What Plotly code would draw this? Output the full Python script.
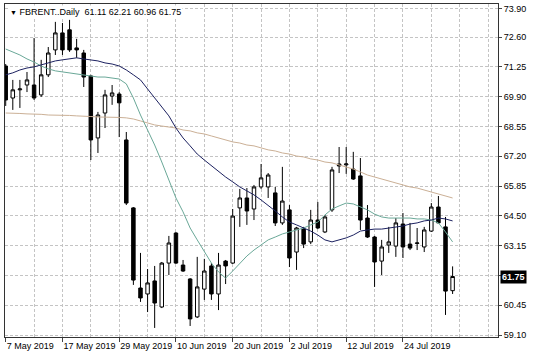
import plotly.graph_objects as go

# ---- data ----
dates = ["7 May 2019", "17 May 2019", "29 May 2019", "10 Jun 2019",
         "20 Jun 2019", "2 Jul 2019", "12 Jul 2019", "24 Jul 2019"]
label_bars = [0, 8, 16, 24, 32, 40, 48, 56]

opens = [71.29, 69.84, 70.21, 70.43, 70.43, 69.98, 70.89, 72.02, 72.79, 72.93,
         72.11, 71.88, 70.84, 68.03, 69.16, 69.93, 70.02, 67.94, 64.86, 61.23,
         60.96, 61.55, 60.37, 62.36, 63.72, 62.27, 61.64, 59.92, 61.18, 62.23,
         60.96, 62.45, 62.36, 64.86, 65.31, 64.81, 65.81, 65.81, 65.54, 64.18,
         64.77, 62.86, 63.90, 63.32, 64.31, 63.77, 64.77, 66.85, 66.81, 66.62,
         66.31, 64.40, 63.54, 62.45, 63.18, 63.13, 64.13, 63.22, 63.25, 63.09,
         63.81, 64.90, 64.00, 61.11]
highs = [71.38, 70.66, 70.66, 71.02, 72.56, 71.57, 72.15, 73.29, 73.24, 73.38,
         72.52, 72.02, 70.89, 69.21, 70.21, 70.43, 70.11, 68.30, 64.90, 62.82,
         62.09, 62.23, 62.41, 63.59, 63.77, 62.50, 61.68, 62.64, 62.55, 62.36,
         62.82, 62.50, 64.81, 65.72, 65.76, 65.90, 66.85, 66.44, 65.81, 66.72,
         64.99, 64.00, 64.00, 64.77, 65.13, 64.54, 66.72, 67.62, 67.62, 67.40,
         67.12, 64.99, 63.59, 63.41, 64.00, 64.40, 64.63, 64.18, 63.95, 64.00,
         65.08, 65.40, 64.45, 62.21]
lows = [69.48, 69.30, 69.39, 70.11, 69.75, 69.89, 70.79, 71.79, 71.79, 71.93,
        71.66, 70.34, 67.03, 67.35, 68.48, 69.53, 68.07, 64.99, 61.37, 60.60,
        60.14, 59.42, 60.32, 61.82, 62.32, 61.96, 59.51, 59.87, 60.69, 60.69,
        60.23, 61.41, 62.32, 64.00, 64.09, 64.31, 65.72, 65.31, 64.04, 64.09,
        62.18, 62.05, 63.04, 63.22, 63.90, 63.72, 64.68, 66.44, 66.40, 66.13,
        63.86, 63.50, 61.28, 61.82, 62.82, 62.64, 62.59, 62.95, 62.95, 62.86,
        63.77, 64.18, 60.01, 60.96]
closes = [69.75, 70.21, 70.25, 70.66, 69.84, 70.89, 71.88, 72.79, 72.02, 72.02,
          72.02, 70.79, 67.94, 69.07, 69.98, 70.07, 69.62, 65.08, 61.59, 60.78,
          61.46, 60.55, 62.36, 63.27, 62.36, 62.00, 59.83, 61.28, 62.00, 60.96,
          62.27, 62.23, 64.49, 65.31, 64.72, 65.81, 66.22, 66.35, 64.18, 65.17,
          62.59, 63.95, 63.22, 64.31, 63.95, 64.45, 66.58, 66.76, 66.85, 66.17,
          64.31, 63.54, 62.41, 63.09, 63.32, 64.18, 63.09, 63.04, 63.27, 63.86,
          64.90, 64.18, 61.09, 61.75]

ma_fast = [72.06, 71.93, 71.79, 71.61, 71.47, 71.29, 71.16, 71.07, 71.02, 70.98,
           70.93, 70.89, 70.84, 70.79, 70.79, 70.75, 70.70, 70.48, 69.84, 69.07,
           68.39, 67.71, 66.94, 66.13, 65.31, 64.68, 63.95, 63.41, 62.86, 62.36,
           61.96, 61.68, 62.00, 62.32, 62.68, 62.95, 63.18, 63.41, 63.54, 63.68,
           63.77, 63.86, 63.95, 64.09, 64.22, 64.54, 64.81, 64.95, 65.08, 65.04,
           64.90, 64.77, 64.58, 64.45, 64.40, 64.40, 64.40, 64.40, 64.36, 64.36,
           64.31, 64.18, 63.77, 63.32]
ma_mid = [70.89, 70.98, 71.11, 71.20, 71.25, 71.34, 71.43, 71.52, 71.57, 71.61,
          71.66, 71.61, 71.57, 71.52, 71.43, 71.38, 71.29, 71.11, 70.89, 70.66,
          70.25, 69.84, 69.48, 69.03, 68.48, 68.03, 67.67, 67.30, 67.03, 66.76,
          66.49, 66.26, 66.04, 65.81, 65.63, 65.45, 65.22, 64.99, 64.72, 64.45,
          64.22, 64.09, 63.95, 63.81, 63.63, 63.41, 63.32, 63.41, 63.50, 63.63,
          63.81, 63.86, 63.90, 63.90, 63.95, 64.00, 64.04, 64.13, 64.18, 64.27,
          64.31, 64.40, 64.36, 64.27]
ma_slow = [69.16, 69.16, 69.14, 69.12, 69.12, 69.10, 69.07, 69.07, 69.07, 69.05,
           69.03, 69.03, 69.00, 68.98, 68.98, 68.98, 68.96, 68.94, 68.89, 68.80,
           68.71, 68.62, 68.57, 68.53, 68.48, 68.39, 68.35, 68.26, 68.21, 68.12,
           68.03, 67.94, 67.85, 67.80, 67.71, 67.67, 67.58, 67.49, 67.44, 67.35,
           67.30, 67.21, 67.17, 67.08, 67.03, 66.94, 66.90, 66.81, 66.72, 66.62,
           66.49, 66.35, 66.26, 66.17, 66.08, 65.99, 65.90, 65.81, 65.76, 65.67,
           65.58, 65.49, 65.40, 65.31]

ytick_vals = [59.10, 60.45, 61.80, 63.15, 64.50, 65.85, 67.20, 68.55, 69.90, 71.25, 72.60, 73.90]
ytick_text = ["59.10", "60.45", "", "63.15", "64.50", "65.85", "67.20", "68.55", "69.90", "71.25", "72.60", "73.90"]
last_price = 61.75
title_text = "FBRENT..Daily  61.11 62.21 60.96 61.75"

bars = list(range(len(opens)))

fig = go.Figure()
fig.add_trace(go.Scatter(x=bars, y=ma_slow, mode="lines",
                         line=dict(color="#cbb096", width=1), hoverinfo="skip"))
fig.add_trace(go.Scatter(x=bars, y=ma_fast, mode="lines",
                         line=dict(color="#6aa898", width=1), hoverinfo="skip"))
fig.add_trace(go.Scatter(x=bars, y=ma_mid, mode="lines",
                         line=dict(color="#1c2160", width=1), hoverinfo="skip"))
fig.add_trace(go.Candlestick(
    x=bars, open=opens, high=highs, low=lows, close=closes,
    increasing=dict(line=dict(color="black", width=1), fillcolor="white"),
    decreasing=dict(line=dict(color="black", width=1), fillcolor="black"),
    whiskerwidth=0,
))

grid = "#c4c4c4"
fig.update_layout(
    width=536, height=358,
    margin=dict(l=5, r=38, t=4, b=21, autoexpand=False),
    paper_bgcolor="white", plot_bgcolor="white",
    showlegend=False,
    font=dict(family="Liberation Sans, Arial, sans-serif", size=9, color="black"),
    xaxis=dict(
        range=[-0.1, 69.4],
        rangeslider=dict(visible=False),
        tickmode="array", tickvals=label_bars, ticktext=dates,
        ticklabelposition="outside right", tickangle=0, automargin=False,
        ticks="outside", ticklen=4, tickcolor="#444",
        showgrid=True, gridcolor=grid, griddash="3px,2px", gridwidth=1,
        minor=dict(tickmode="array", tickvals=list(range(0, 70, 4)),
                   showgrid=True, gridcolor=grid, griddash="3px,2px", ticks=""),
        showline=True, linecolor="#333", linewidth=1, mirror=True,
        zeroline=False, fixedrange=True,
    ),
    yaxis=dict(
        range=[59.01, 74.10], side="right", automargin=False,
        tickmode="array", tickvals=ytick_vals, ticktext=ytick_text,
        ticks="outside", ticklen=3, tickcolor="#444",
        showgrid=True, gridcolor=grid, griddash="3px,2px", gridwidth=1,
        showline=True, linecolor="#333", linewidth=1, mirror=True,
        zeroline=False,
    ),
)

fig.add_annotation(
    xref="paper", yref="y", x=1, y=last_price, xanchor="left", yanchor="middle",
    xshift=2, text="<b>%.2f</b>" % last_price, showarrow=False,
    font=dict(color="white", size=9), bgcolor="black", borderpad=1,
)
fig.add_annotation(
    xref="paper", yref="paper", x=0, y=1, xanchor="left", yanchor="top",
    xshift=3, yshift=-1,
    text="<span style='font-size:7px'>▼</span> " + title_text,
    showarrow=False, font=dict(size=9, color="black"), bgcolor="white",
)

fig.write_html("out.html", config={"displayModeBar": False},
               post_script="document.body.style.margin='0';")
